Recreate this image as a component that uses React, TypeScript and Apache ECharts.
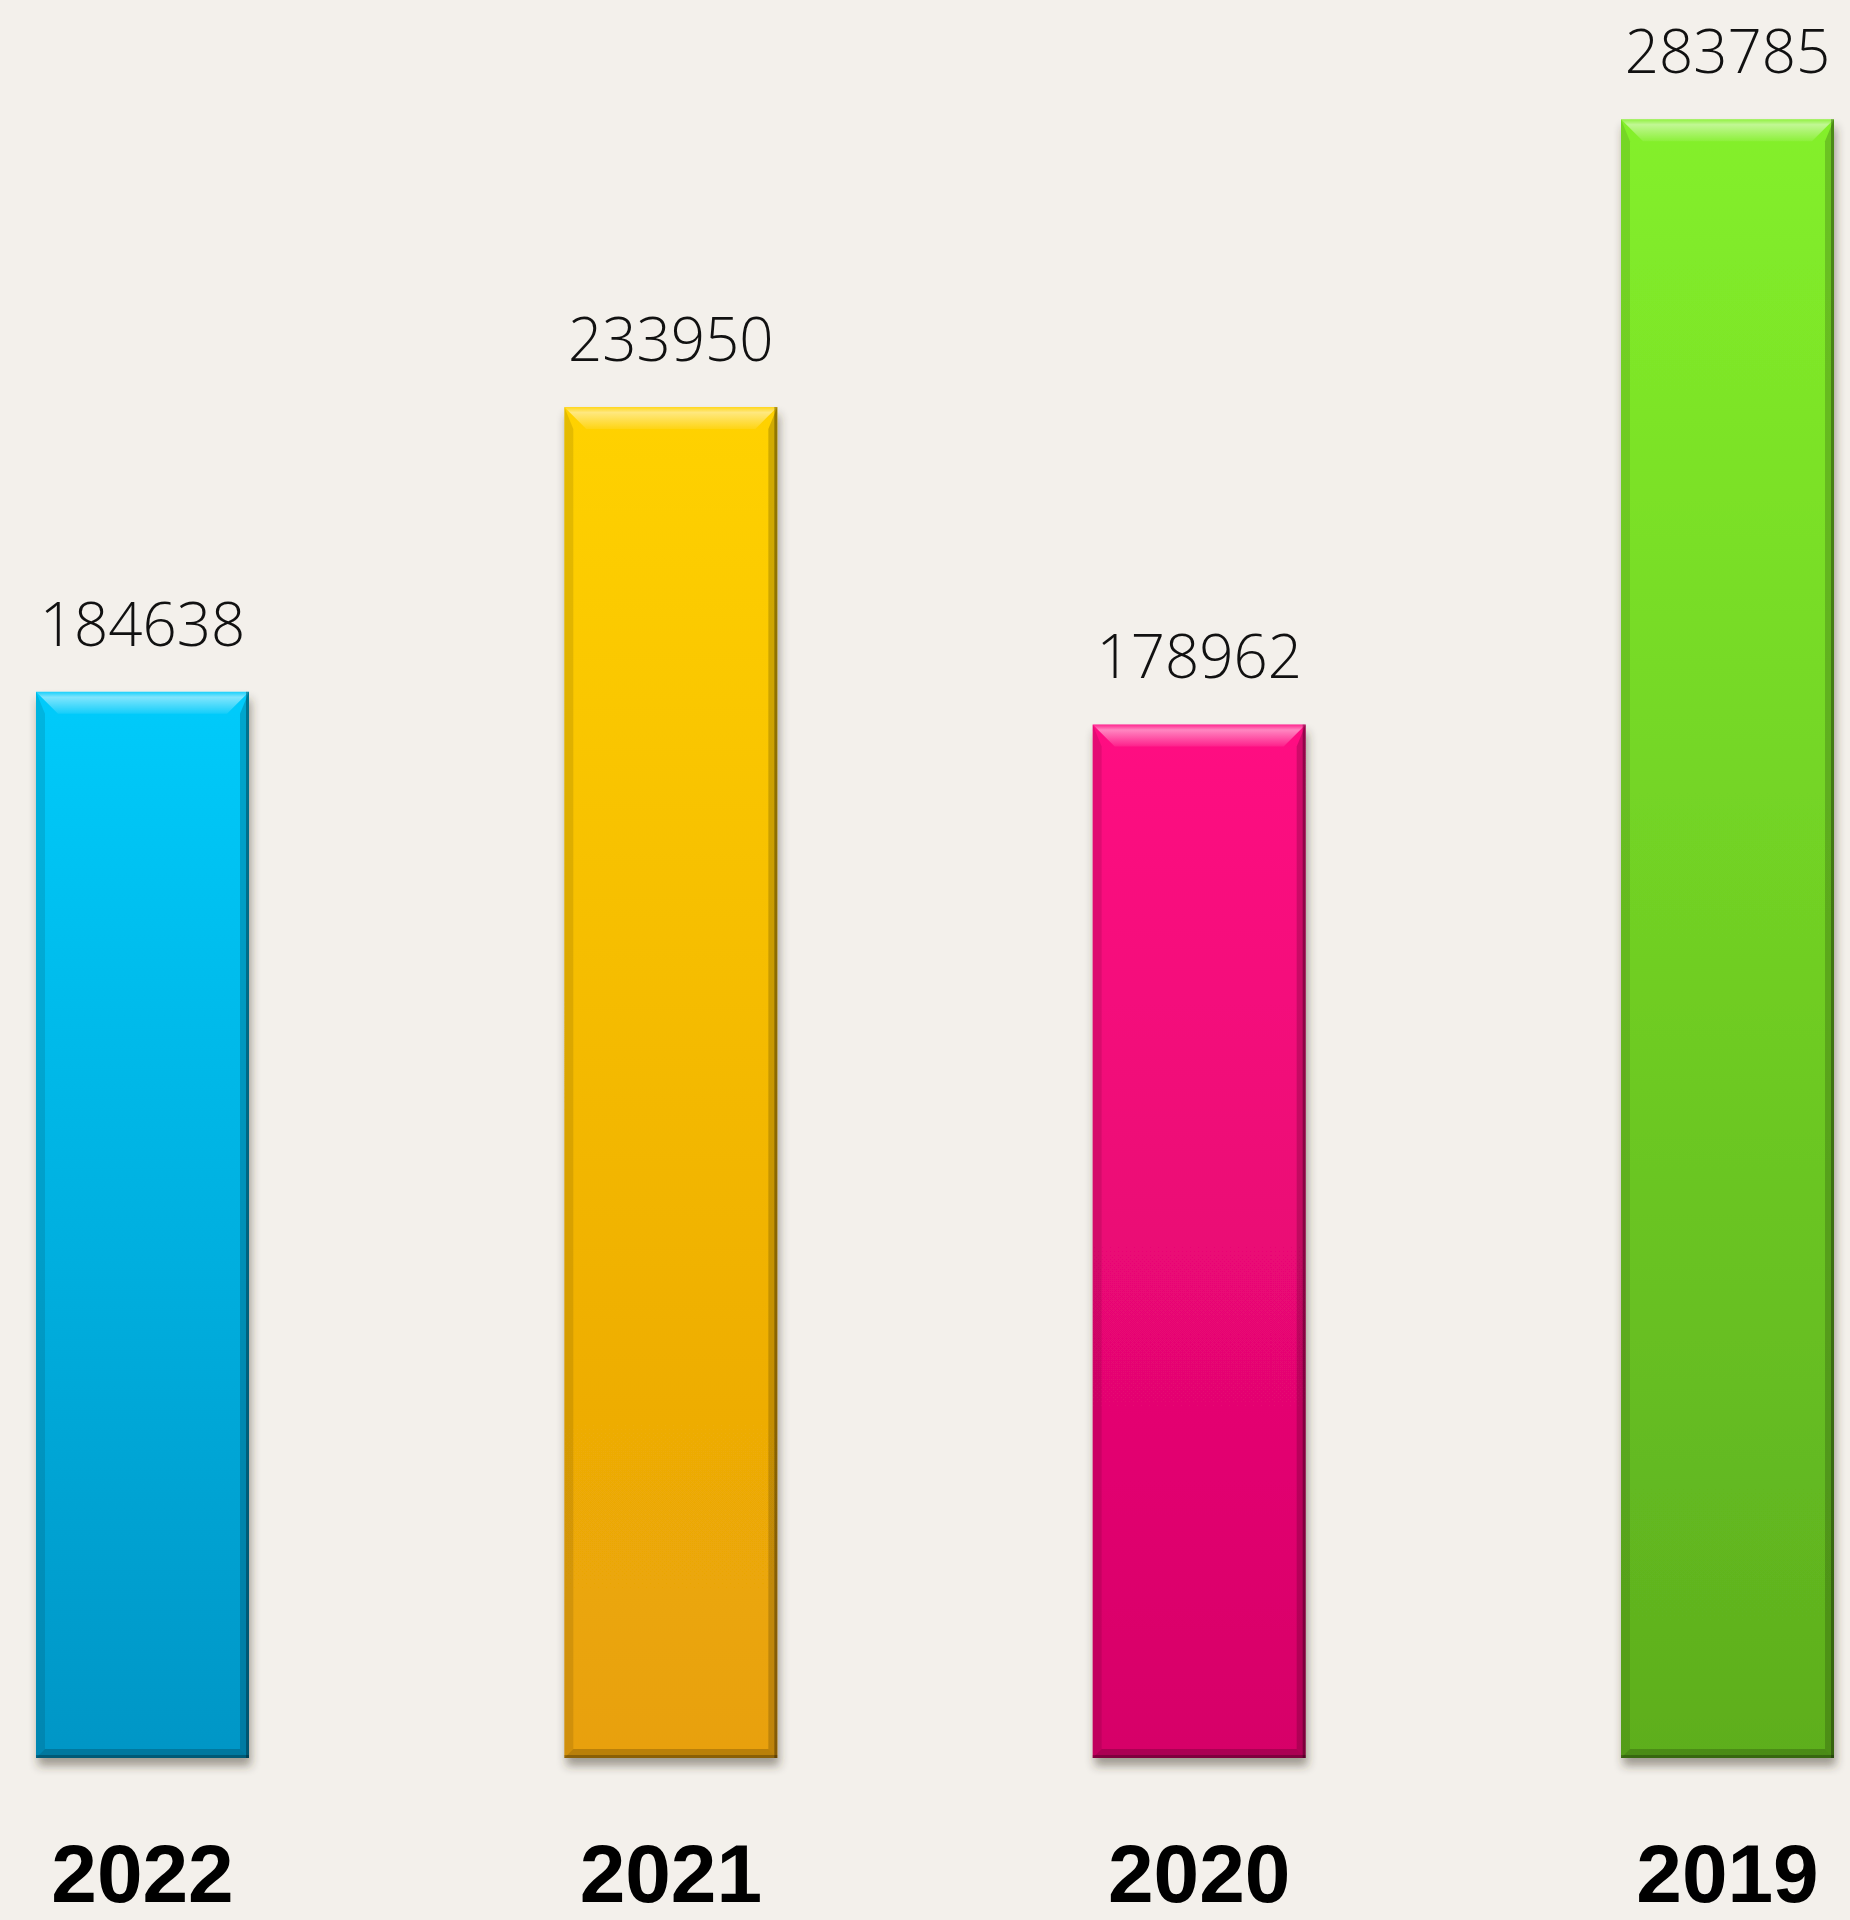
import React, { useEffect, useRef } from "react";
import * as echarts from "echarts";

const categories = ["2022", "2021", "2020", "2019"];
const values = [184638, 233950, 178962, 283785];
const topColors = ["#00CBFB", "#FFD200", "#FF0A82", "#84F02A"];
const bottomColors = ["#0396C6", "#E8A008", "#D60468", "#5DAE1E"];

export default function App() {
  const ref = useRef<HTMLDivElement>(null);
  useEffect(() => {
    if (!ref.current) return;
    const chart = echarts.init(ref.current, null, { renderer: "svg" });
    const BW = 213;
    const BEV = 22;
    const SIDE = 9;
    chart.setOption({
      animation: false,
      backgroundColor: "#F3F0EB",
      grid: { left: 142.5, right: 1850 - 1727.5, top: 25.5, bottom: 1920 - 1758 },
      xAxis: {
        type: "category",
        data: categories,
        boundaryGap: false,
        axisLine: { show: false },
        axisTick: { show: false },
        axisLabel: {
          margin: 85,
          fontFamily: "Liberation Sans",
          fontWeight: "bold",
          fontSize: 82,
          lineHeight: 60,
          color: "#000",
        },
      },
      yAxis: {
        type: "value",
        min: 0,
        max: 300000,
        show: false,
        splitLine: { show: false },
      },
      series: [
        {
          type: "bar",
          data: values.map((v, i) => ({
            value: v,
            itemStyle: {
              color: new echarts.graphic.LinearGradient(0, 0, 0, 1, [
                { offset: 0, color: topColors[i] },
                { offset: 1, color: bottomColors[i] },
              ]),
            },
          })),
          barWidth: BW,
          itemStyle: {
            shadowBlur: 10,
            shadowOffsetX: 2,
            shadowOffsetY: 8,
            shadowColor: "rgba(60,50,40,0.45)",
          },
          label: {
            show: true,
            position: "top",
            distance: 39,
            fontFamily: "Open Sans",
            fontWeight: 300,
            fontSize: 60,
            lineHeight: 60,
            color: "#111",
          },
        },
        {
          type: "custom",
          data: values.map((v, i) => [i, v]),
          z: 3,
          silent: true,
          renderItem: (params: any, api: any) => {
            const top = api.coord([api.value(0), api.value(1)]);
            const bot = api.coord([api.value(0), 0]);
            const l = top[0] - BW / 2;
            const r = top[0] + BW / 2;
            const t = top[1];
            const b = bot[1];
            return {
              type: "group",
              children: [
                {
                  type: "polygon",
                  shape: { points: [[l, t], [r, t], [r - BEV, t + BEV], [l + BEV, t + BEV]] },
                  style: {
                    fill: new echarts.graphic.LinearGradient(0, 0, 0, 1, [
                      { offset: 0, color: "rgba(255,255,255,0.1)" },
                      { offset: 0.25, color: "rgba(255,255,255,0.5)" },
                      { offset: 1, color: "rgba(255,255,255,0.08)" },
                    ]),
                  },
                },
                {
                  type: "polygon",
                  shape: { points: [[l, t], [l + SIDE, t + BEV], [l + SIDE, b - SIDE], [l, b]] },
                  style: { fill: "rgba(0,0,0,0.1)" },
                },
                {
                  type: "polygon",
                  shape: { points: [[r, t], [r - SIDE, t + BEV], [r - SIDE, b - SIDE], [r, b]] },
                  style: { fill: "rgba(0,0,0,0.18)" },
                },
                {
                  type: "polygon",
                  shape: { points: [[l, b], [l + SIDE, b - SIDE], [r - SIDE, b - SIDE], [r, b]] },
                  style: { fill: "rgba(0,0,0,0.2)" },
                },
                {
                  type: "rect",
                  shape: { x: r - 3, y: t, width: 3, height: b - t },
                  style: { fill: "rgba(0,0,0,0.3)" },
                },
                {
                  type: "rect",
                  shape: { x: l, y: b - 3, width: r - l, height: 3 },
                  style: { fill: "rgba(0,0,0,0.25)" },
                },
              ],
            };
          },
        },
      ],
    });
    return () => chart.dispose();
  }, []);
  return (
    <div
      ref={ref}
      style={{ position: "absolute", left: 0, top: 0, width: 1850, height: 1920 }}
    />
  );
}
